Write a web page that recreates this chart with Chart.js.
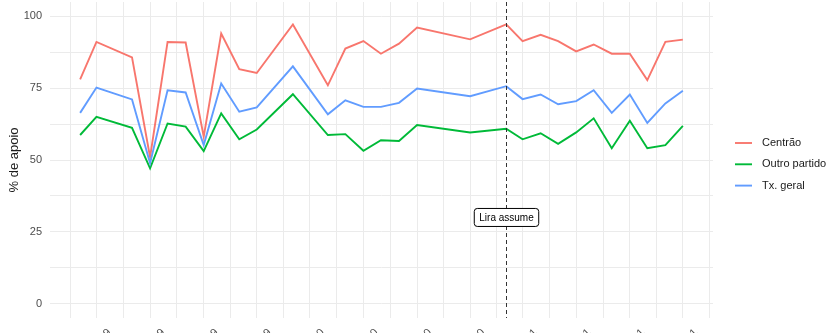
<!DOCTYPE html>
<html><head><meta charset="utf-8">
<script src="https://cdn.jsdelivr.net/npm/chart.js@4.4.0/dist/chart.umd.min.js"></script>
<style>html,body{margin:0;padding:0;background:#fff;overflow:hidden}</style>
</head><body>
<canvas id="c" width="840" height="333" style="display:block;width:840px;height:333px"></canvas>
<script>
// ---- data ----
const dates = ['2019-02-01','2019-03-01','2019-05-01','2019-06-01','2019-07-01','2019-08-01','2019-09-01','2019-10-01','2019-11-01','2019-12-01',
  '2020-02-01','2020-04-01','2020-05-01','2020-06-01','2020-07-01','2020-08-01','2020-09-01','2020-12-01',
  '2021-02-01','2021-03-01','2021-04-01','2021-05-01','2021-06-01','2021-07-01','2021-08-01','2021-09-01','2021-10-01','2021-11-01','2021-12-01'];
const centrao = [78.1, 91.1, 85.7, 51.0, 91.1, 90.9, 58.1, 94.0, 81.6, 80.3,
  97.2, 76.0, 88.8, 91.4, 87.0, 90.5, 96.1, 92.0,
  97.2, 91.4, 93.6, 91.4, 87.8, 90.2, 87.0, 87.0, 77.8, 91.1, 91.9];
const outroPartido = [58.7, 65.0, 61.2, 47.1, 62.7, 61.6, 53.1, 66.2, 57.2, 60.6,
  72.9, 58.7, 59.0, 53.2, 56.9, 56.6, 62.2, 59.6,
  60.9, 57.2, 59.3, 55.6, 59.6, 64.5, 54.1, 63.7, 54.1, 55.2, 61.9];
const txGeral = [66.4, 75.2, 71.1, 48.9, 74.3, 73.5, 55.2, 76.6, 66.8, 68.3,
  82.6, 65.9, 70.8, 68.5, 68.5, 69.9, 74.9, 72.2,
  75.7, 71.2, 72.8, 69.4, 70.5, 74.3, 66.4, 72.8, 62.9, 69.7, 74.1];
const seriesNames = ['Centrão', 'Outro partido', 'Tx. geral'];
const tickDates = ['2019-03-01','2019-06-01','2019-09-01','2019-12-01','2020-03-01','2020-06-01','2020-09-01','2020-12-01','2021-03-01','2021-06-01','2021-09-01','2021-12-01'];
const tickLabels = ['mar 2019','jun 2019','set 2019','dez 2019','mar 2020','jun 2020','set 2020','dez 2020','mar 2021','jun 2021','set 2021','dez 2021'];
const outerBreaks = ['2018-12-01', '2022-03-01'];
const yTicks = [0, 25, 50, 75, 100];
const yTitle = '% de apoio';
const eventDate = '2021-02-01';
const eventLabel = 'Lira assume';
const eventLabelY = 30;

// ---- helpers ----
const toDay = s => { const [y, m, d] = s.split('-').map(Number); return Date.UTC(y, m - 1, d) / 864e5; };
const xs = dates.map(toDay);
const majorX = tickDates.map(toDay);
const allBreaks = [toDay(outerBreaks[0]), ...majorX, toDay(outerBreaks[1])];
const minorX = [];
for (let i = 0; i < allBreaks.length - 1; i++) minorX.push((allBreaks[i] + allBreaks[i + 1]) / 2);
const span = xs[xs.length - 1] - xs[0];
const xMin = xs[0] - 0.05 * span, xMax = xs[xs.length - 1] + 0.05 * span;
const xTickVals = [...minorX, ...majorX].filter(v => v >= xMin && v <= xMax).sort((a, b) => a - b);
const labelMap = {}; majorX.forEach((v, i) => labelMap[v] = tickLabels[i]);
const yTickVals = [];
for (let i = 0; i < yTicks.length; i++) { yTickVals.push(yTicks[i]); if (i < yTicks.length - 1) yTickVals.push((yTicks[i] + yTicks[i + 1]) / 2); }

const colors = ['#F8766D', '#00BA38', '#619CFF'];
const FONT = '"Liberation Sans", Arial, sans-serif';
const series = [centrao, outroPartido, txGeral];
const LW = 1.9;

const ggLegend = {
  id: 'ggLegend',
  afterDraw(chart) {
    const ctx = chart.ctx;
    const ds = chart.data.datasets;
    ctx.save();
    ctx.font = '11px ' + FONT;
    ctx.textBaseline = 'middle';
    ctx.textAlign = 'left';
    const x0 = chart.chartArea.right + 22;
    const y0 = 143;
    ds.forEach((d, i) => {
      const y = y0 + i * 21.3;
      ctx.strokeStyle = d.borderColor;
      ctx.lineWidth = LW;
      ctx.beginPath(); ctx.moveTo(x0, y); ctx.lineTo(x0 + 17, y); ctx.stroke();
      ctx.fillStyle = '#1a1a1a';
      ctx.fillText(d.label, x0 + 27, y);
    });
    ctx.restore();
  }
};

const eventMark = {
  id: 'eventMark',
  afterDatasetsDraw(chart) {
    const ctx = chart.ctx, xS = chart.scales.x, yS = chart.scales.y, ca = chart.chartArea;
    const px = Math.round(xS.getPixelForValue(toDay(eventDate))) + 0.5;
    ctx.save();
    ctx.strokeStyle = '#333333';
    ctx.lineWidth = 1;
    ctx.setLineDash([4, 3]);
    ctx.beginPath(); ctx.moveTo(px, ca.top); ctx.lineTo(px, ca.bottom); ctx.stroke();
    ctx.setLineDash([]);
    const py = yS.getPixelForValue(eventLabelY);
    ctx.font = '10px ' + FONT;
    const tw = ctx.measureText(eventLabel).width;
    const w = tw + 10, h = 18;
    const bx = px - w / 2, by = py - h / 2;
    ctx.beginPath();
    ctx.roundRect(bx, by, w, h, 3);
    ctx.fillStyle = '#ffffff';
    ctx.fill();
    ctx.strokeStyle = '#000000';
    ctx.lineWidth = 1;
    ctx.stroke();
    ctx.fillStyle = '#000000';
    ctx.textAlign = 'center';
    ctx.textBaseline = 'middle';
    ctx.fillText(eventLabel, px, py + 0.5);
    ctx.restore();
  }
};

new Chart(document.getElementById('c'), {
  type: 'line',
  data: {
    datasets: series.map((arr, i) => ({
      label: seriesNames[i],
      data: arr.map((v, j) => ({ x: xs[j], y: v })),
      borderColor: colors[i],
      backgroundColor: colors[i],
      borderWidth: LW,
      pointRadius: 0,
      tension: 0,
      fill: false,
      order: 3 - i
    }))
  },
  options: {
    responsive: false,
    animation: false,
    devicePixelRatio: 1,
    layout: { padding: { top: 2, right: 127, bottom: 0, left: 0 } },
    plugins: { legend: { display: false }, tooltip: { enabled: false } },
    scales: {
      x: {
        type: 'linear', min: xMin, max: xMax,
        border: { display: false },
        grid: { color: '#ebebeb', lineWidth: 1, drawTicks: false },
        ticks: {
          autoSkip: false, minRotation: 45, maxRotation: 45, padding: 8, labelOffset: 13,
          color: '#4d4d4d', font: { family: FONT, size: 11 },
          callback: v => labelMap[v] !== undefined ? labelMap[v] : ''
        },
        afterBuildTicks: a => { a.ticks = xTickVals.map(v => ({ value: v })); },
        afterFit: a => { a.height = 15; a.paddingLeft = 0; a.paddingRight = 0; }
      },
      y: {
        min: -5, max: 105,
        border: { display: false },
        grid: { color: '#ebebeb', lineWidth: 1, drawTicks: false },
        ticks: {
          padding: 8, color: '#4d4d4d', font: { family: FONT, size: 11 },
          callback: v => yTicks.includes(v) ? String(v) : ''
        },
        title: { display: true, text: yTitle, color: '#1a1a1a', font: { family: FONT, size: 13 }, padding: { top: 7, bottom: 0 } },
        afterBuildTicks: a => { a.ticks = yTickVals.map(v => ({ value: v })); },
        afterFit: a => { a.width = 50; a.paddingTop = 0; a.paddingBottom = 0; }
      }
    }
  },
  plugins: [eventMark, ggLegend]
});
</script>
</body></html>
